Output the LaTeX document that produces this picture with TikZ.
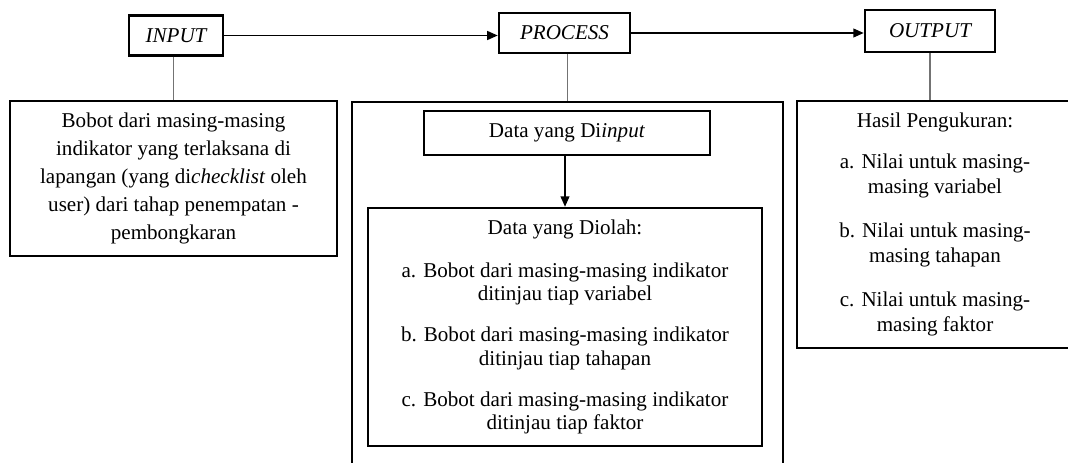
\documentclass[tikz,border=0pt]{standalone}
\usepackage{fontspec}
\setmainfont{Liberation Serif}
\usetikzlibrary{arrows.meta}

\begin{document}
\begin{tikzpicture}[x=0.02cm, y=-0.02cm,
    box/.style={draw, line width=1.4pt, inner sep=0pt, align=center,
        font=\fontsize{12pt}{13.4pt}\selectfont},
    head/.style={box, font=\fontsize{12pt}{14pt}\selectfont\itshape},
    link/.style={draw=black!55, line width=0.7pt},
    flow/.style={line width=1pt, -{Triangle[length=6pt,width=5pt]}}]
        \clip (0,0) rectangle (1068,463);

        % heads
        \node[head, minimum width=1.88cm, minimum height=0.8cm] (input) at (176,35.5) {INPUT};
        \node[head, minimum width=2.62cm, minimum height=0.8cm] (process) at (564.5,33) {PROCESS};
        \node[head, minimum width=2.6cm, minimum height=0.84cm] (output) at (930,31) {OUTPUT};

        % boxes
        \node[box, minimum width=6.54cm, minimum height=3.1cm,
            font=\fontsize{12pt}{16pt}\selectfont] (inbox) at (173.5,178.5)
            {Bobot dari masing-masing\\ indikator yang terlaksana di\\
             lapangan (yang di\textit{checklist} oleh\\ user) dari tahap penempatan -\\
             pembongkaran};
        \node[box, minimum width=8.62cm, minimum height=7.56cm] (probox) at (567.5,291) {};
        \node[box, minimum width=5.72cm, minimum height=0.88cm] (dinput) at (567,133) {Data yang Di\textit{input}};
        \node[box, minimum width=7.88cm, minimum height=4.76cm] (dolah) at (565,327)
            {Data yang Diolah:\\[11pt]
             a. Bobot dari masing-masing indikator\\ ditinjau tiap variabel\\[10pt]
             b. Bobot dari masing-masing indikator\\ ditinjau tiap tahapan\\[10pt]
             c. Bobot dari masing-masing indikator\\ ditinjau tiap faktor};
        \node[box, minimum width=5.52cm, minimum height=4.94cm,
            font=\fontsize{12pt}{14.2pt}\selectfont] (outbox) at (935,224.5)
            {Hasil Pengukuran:\\[9pt]
             a. Nilai untuk masing-\\ masing variabel\\[11pt]
             b. Nilai untuk masing-\\ masing tahapan\\[11pt]
             c. Nilai untuk masing-\\ masing faktor};

        % connectors
        \draw[flow] (input.east) -- (input.east -| process.west);
        \draw[flow] (process.east) -- (process.east -| output.west);
        \draw[link] (input.south -| inbox.north) -- (inbox.north);
        \draw[link] (process.south -| probox.north) -- (probox.north);
        \draw[link] (output.south) -- (output.south |- outbox.north);
        \draw[flow] (dinput.south -| dolah.north) -- (dolah.north);
    \end{tikzpicture}
\end{document}
